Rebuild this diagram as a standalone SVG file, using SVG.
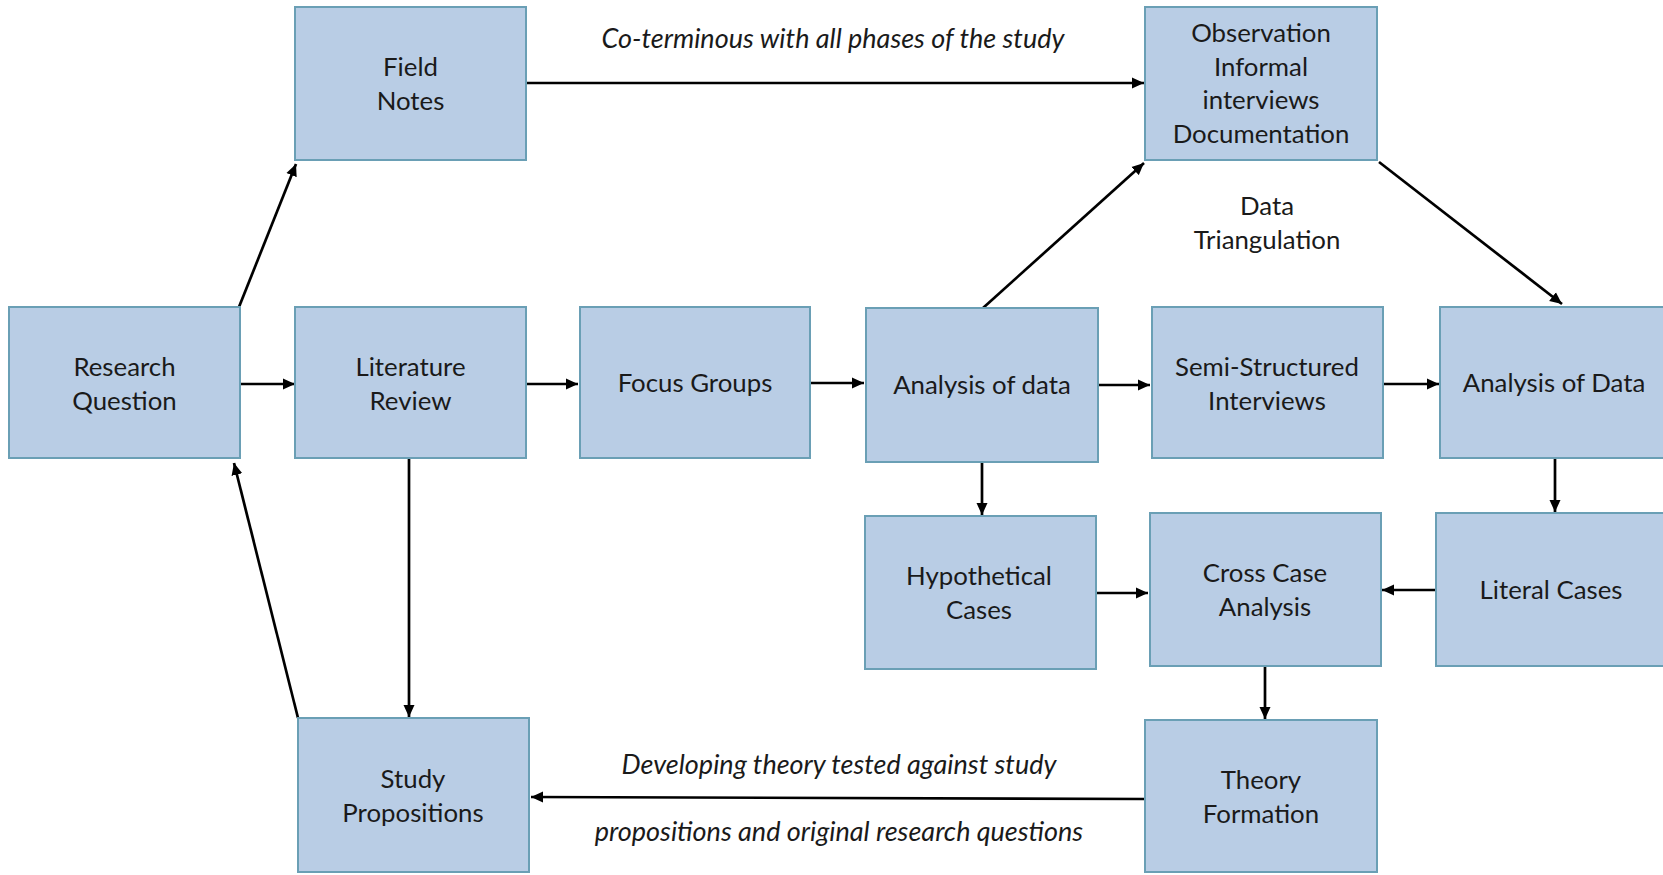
<svg xmlns="http://www.w3.org/2000/svg" width="1663" height="875" viewBox="0 0 1663 875">
<style>
.box{fill:#B9CDE5;stroke:#6A9FB5;stroke-width:2}
.t{font-family:Lato,"Liberation Sans",sans-serif;font-size:25.8px;fill:#1A1A1A;text-anchor:middle}
.i{font-family:Lato,"Liberation Sans",sans-serif;font-size:27px;font-style:italic;fill:#1A1A1A;text-anchor:middle}
.c{stroke:#000;stroke-width:2.7;fill:none;marker-end:url(#ah)}
</style>
<defs>
<marker id="ah" markerUnits="userSpaceOnUse" markerWidth="13" markerHeight="12" refX="12" refY="6" orient="auto">
<path d="M0,0.5 L12,6 L0,11.5 z" fill="#000"/>
</marker>
</defs>
<rect width="1663" height="875" fill="#fff"/>
<g id="connectors">
<line class="c" x1="239" y1="307" x2="296" y2="164"/>
<line class="c" x1="240" y1="384" x2="295" y2="384"/>
<line class="c" x1="526" y1="384" x2="578" y2="384"/>
<line class="c" x1="810" y1="383" x2="864" y2="383"/>
<line class="c" x1="1098" y1="385" x2="1150" y2="385"/>
<line class="c" x1="1383" y1="384" x2="1439" y2="384"/>
<line class="c" x1="526" y1="83" x2="1144" y2="83"/>
<line class="c" x1="983" y1="308" x2="1144" y2="163"/>
<line class="c" x1="1379" y1="162" x2="1562" y2="304"/>
<line class="c" x1="982" y1="462" x2="982" y2="515"/>
<line class="c" x1="1555" y1="458" x2="1555" y2="512"/>
<line class="c" x1="1096" y1="593" x2="1148" y2="593"/>
<line class="c" x1="1436" y1="590" x2="1382" y2="590"/>
<line class="c" x1="1265" y1="666" x2="1265" y2="719"/>
<line class="c" x1="409" y1="458" x2="409" y2="717"/>
<line class="c" x1="298" y1="718" x2="234" y2="463"/>
<line class="c" x1="1145" y1="799" x2="531" y2="797"/>
</g>
<g id="labels">
<text class="i" x="833" y="48">Co-terminous with all phases of the study</text>
<text class="i" x="839" y="774">Developing theory tested against study</text>
<text class="i" x="839" y="841">propositions and original research questions</text>
<text class="t" x="1267" y="215">Data</text>
<text class="t" x="1267" y="249">Triangulation</text>
</g>
<g id="research-question">
<rect class="box" x="9" y="307" width="231" height="151"/>
<text class="t" x="124.5" y="376">Research</text>
<text class="t" x="124.5" y="410">Question</text>
</g>
<g id="field-notes">
<rect class="box" x="295" y="7" width="231" height="153"/>
<text class="t" x="410.5" y="76">Field</text>
<text class="t" x="410.5" y="110">Notes</text>
</g>
<g id="literature-review">
<rect class="box" x="295" y="307" width="231" height="151"/>
<text class="t" x="410.5" y="376">Literature</text>
<text class="t" x="410.5" y="410">Review</text>
</g>
<g id="focus-groups">
<rect class="box" x="580" y="307" width="230" height="151"/>
<text class="t" x="695" y="392">Focus Groups</text>
</g>
<g id="analysis-of-data-1">
<rect class="box" x="866" y="308" width="232" height="154"/>
<text class="t" x="982" y="394">Analysis of data</text>
</g>
<g id="semi-structured">
<rect class="box" x="1152" y="307" width="231" height="151"/>
<text class="t" x="1267" y="376">Semi-Structured</text>
<text class="t" x="1267" y="410">Interviews</text>
</g>
<g id="analysis-of-data-2">
<rect class="box" x="1440" y="307" width="240" height="151"/>
<text class="t" x="1554" y="392">Analysis of Data</text>
</g>
<g id="observation">
<rect class="box" x="1145" y="7" width="232" height="153"/>
<text class="t" x="1261" y="42">Observation</text>
<text class="t" x="1261" y="76">Informal</text>
<text class="t" x="1261" y="109">interviews</text>
<text class="t" x="1261" y="143">Documentation</text>
</g>
<g id="hypothetical-cases">
<rect class="box" x="865" y="516" width="231" height="153"/>
<text class="t" x="979" y="585">Hypothetical</text>
<text class="t" x="979" y="619">Cases</text>
</g>
<g id="cross-case">
<rect class="box" x="1150" y="513" width="231" height="153"/>
<text class="t" x="1265" y="582">Cross Case</text>
<text class="t" x="1265" y="616">Analysis</text>
</g>
<g id="literal-cases">
<rect class="box" x="1436" y="513" width="240" height="153"/>
<text class="t" x="1551" y="599">Literal Cases</text>
</g>
<g id="theory-formation">
<rect class="box" x="1145" y="720" width="232" height="152"/>
<text class="t" x="1261" y="789">Theory</text>
<text class="t" x="1261" y="823">Formation</text>
</g>
<g id="study-propositions">
<rect class="box" x="298" y="718" width="231" height="154"/>
<text class="t" x="413" y="788">Study</text>
<text class="t" x="413" y="822">Propositions</text>
</g>
</svg>
